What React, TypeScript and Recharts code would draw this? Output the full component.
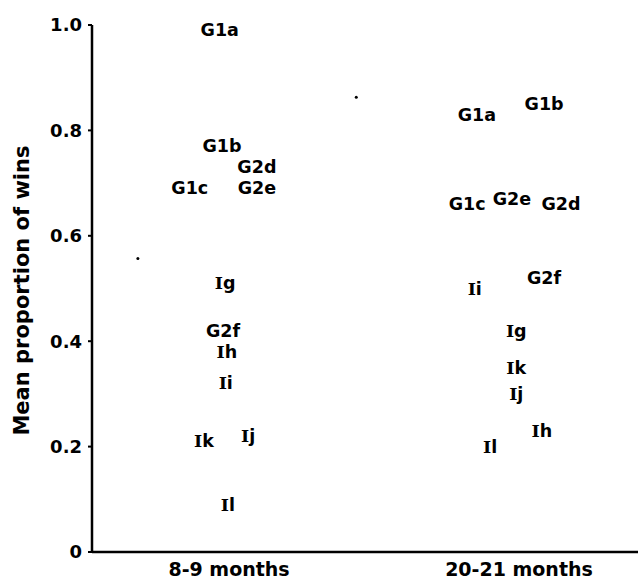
import React from "react";
import { ScatterChart, Scatter, XAxis, YAxis } from "recharts";

// group labels
const names = ["G1a", "G1b", "G1c", "G2d", "G2e", "G2f", "Ig", "Ih", "Ii", "Ij", "Ik", "Il"];

// 8-9 months: horizontal spread + mean proportion of wins
const earlyX = [2.34, 2.38, 1.79, 3.02, 3.02, 2.4, 2.44, 2.47, 2.45, 2.86, 2.05, 2.49];
const earlyY = [0.99, 0.77, 0.69, 0.73, 0.69, 0.42, 0.51, 0.38, 0.32, 0.22, 0.21, 0.09];

// 20-21 months
const lateX = [7.05, 8.28, 6.87, 8.59, 7.69, 8.28, 7.77, 8.24, 7.01, 7.77, 7.77, 7.29];
const lateY = [0.83, 0.85, 0.66, 0.66, 0.67, 0.52, 0.42, 0.23, 0.5, 0.3, 0.35, 0.2];

const categories = ["8-9 months", "20-21 months"];
const categoryX = [2.51, 7.82];
const yTicks = [0, 0.2, 0.4, 0.6, 0.8, 1.0];

// stray specks on the scan
const specksX = [0.84, 4.84];
const specksY = [0.557, 0.863];

const FONT = "'DejaVu Sans', sans-serif";

const early = names.map((n, i) => ({ name: n, x: earlyX[i], y: earlyY[i] }));
const late = names.map((n, i) => ({ name: n, x: lateX[i], y: lateY[i] }));
const specks = specksX.map((x, i) => ({ x, y: specksY[i] }));

const LabelMark = (props: any) => {
  const { cx, cy, payload } = props;
  const name: string = payload.name;
  const roman = name.startsWith("I");
  return (
    <text
      x={cx}
      y={cy}
      textAnchor="middle"
      dominantBaseline="central"
      fontFamily={FONT}
      fontWeight="bold"
      fontSize={17.5}
      fill="#000"
    >
      {roman ? (
        <>
          <tspan fontFamily="'DejaVu Serif', serif">I</tspan>
          <tspan>{name.slice(1)}</tspan>
        </>
      ) : (
        name
      )}
    </text>
  );
};

const Speck = (props: any) => <circle cx={props.cx} cy={props.cy} r={1.5} fill="#000" />;

export default function App() {
  return (
    <div style={{ position: "absolute", left: 0, top: 0, background: "#fff" }}>
      <ScatterChart width={638} height={580} margin={{ top: 25, right: 0, bottom: 0, left: 0 }}>
        <XAxis
          type="number"
          dataKey="x"
          domain={[0, 10]}
          ticks={categoryX}
          tickFormatter={(v: number) => categories[categoryX.indexOf(v)] ?? ""}
          tickLine={false}
          tickMargin={5}
          height={28}
          axisLine={{ stroke: "#000", strokeWidth: 2.5 }}
          tick={{ fill: "#000", fontFamily: FONT, fontWeight: "bold", fontSize: 19 }}
          allowDataOverflow
        />
        <YAxis
          type="number"
          dataKey="y"
          domain={[0, 1]}
          ticks={yTicks}
          width={92}
          tickSize={4}
          tickMargin={6}
          tickFormatter={(v: number) => (v === 0 ? "0" : v.toFixed(1))}
          axisLine={{ stroke: "#000", strokeWidth: 2.5 }}
          tickLine={{ stroke: "#000", strokeWidth: 2 }}
          tick={{ fill: "#000", fontFamily: FONT, fontWeight: "bold", fontSize: 18 }}
          label={{
            value: "Mean proportion of wins",
            angle: -90,
            position: "center",
            dx: -24,
            dy: 2,
            style: { fill: "#000", fontFamily: FONT, fontWeight: "bold", fontSize: 21 },
          }}
        />
        <Scatter data={early} shape={LabelMark} isAnimationActive={false} />
        <Scatter data={late} shape={LabelMark} isAnimationActive={false} />
        <Scatter data={specks} shape={Speck} isAnimationActive={false} />
      </ScatterChart>
    </div>
  );
}
